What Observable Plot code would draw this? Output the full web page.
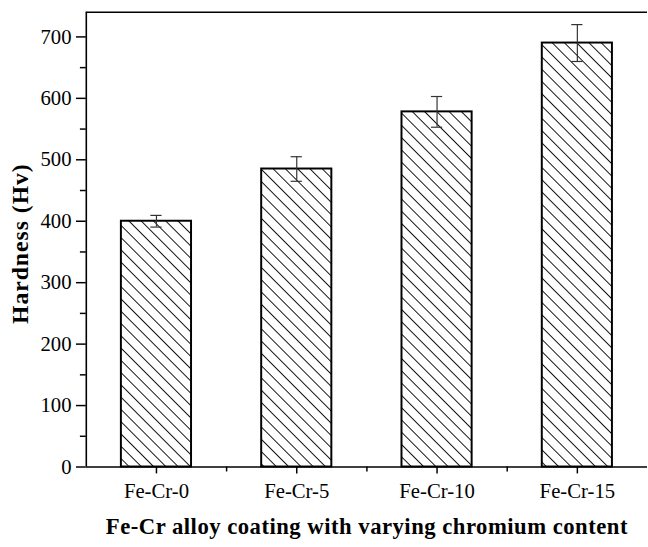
<!DOCTYPE html>
<html>
<head>
<meta charset="utf-8">
<script src="https://cdn.jsdelivr.net/npm/d3@7"></script>
<script src="https://cdn.jsdelivr.net/npm/@observablehq/plot@0.6"></script>
<style>
  html, body { margin: 0; padding: 0; background: #fff; overflow: hidden; width: 648px; height: 547px; }
  #chart svg { display: block; }
</style>
</head>
<body>
<div id="chart"></div>
<script>
// ---- data ----
const categories = ["Fe-Cr-0", "Fe-Cr-5", "Fe-Cr-10", "Fe-Cr-15"];
const hardness = [400, 485, 578, 690];
const errors = [9.5, 20, 25, 30];
const yMajorTicks = [0, 100, 200, 300, 400, 500, 600, 700];
const yMinorTicks = [50, 150, 250, 350, 450, 550, 650];
const xLabel = "Fe-Cr alloy coating with varying chromium content";
const yLabel = "Hardness (Hv)";

const idx = categories.map((_, i) => i);
const xMinorTicks = idx.slice(1).map(i => i - 0.5);
const halfBar = 0.25;
const capHalf = 0.04;

const svg = Plot.plot({
  width: 657,
  height: 547,
  marginLeft: 87,
  marginRight: 1,
  marginTop: 12,
  marginBottom: 74,
  style: { fontFamily: "'Liberation Serif', 'Times New Roman', serif", fontSize: "21px", color: "black", background: "white" },
  x: { domain: [-0.5, categories.length - 0.5] },
  y: { domain: [0, 740] },
  marks: [
    Plot.rect(idx, {
      x1: i => i - halfBar, x2: i => i + halfBar,
      y1: 0, y2: i => hardness[i],
      fill: "url(#hatch)", stroke: "black", strokeWidth: 2
    }),
    Plot.ruleX(idx, { x: i => i, y1: i => hardness[i] - errors[i], y2: i => hardness[i] + errors[i], stroke: "#333", strokeWidth: 1.2 }),
    Plot.ruleY(idx, { y: i => hardness[i] + errors[i], x1: i => i - capHalf, x2: i => i + capHalf, stroke: "#333", strokeWidth: 1.2 }),
    Plot.ruleY(idx, { y: i => hardness[i] - errors[i], x1: i => i - capHalf, x2: i => i + capHalf, stroke: "#333", strokeWidth: 1.2 }),
    Plot.ruleY([0], { stroke: "black", strokeWidth: 1.6 }),
    Plot.ruleY([740], { stroke: "black", strokeWidth: 1.6 }),
    Plot.ruleX([-0.5], { stroke: "black", strokeWidth: 1.6 }),
    Plot.axisY(yMajorTicks, { tickSize: 10, tickPadding: 5, label: null, strokeWidth: 1.5, fontSize: 21 }),
    Plot.axisY(yMinorTicks, { tickSize: 6, tickFormat: () => "", label: null, strokeWidth: 1.5 }),
    Plot.axisX(idx, { tickSize: 7, tickPadding: 10, tickFormat: i => categories[i], label: null, strokeWidth: 1.5, fontSize: 21 }),
    Plot.axisX(xMinorTicks, { tickSize: 5, tickFormat: () => "", label: null, strokeWidth: 1.5 }),
    Plot.text([xLabel], { frameAnchor: "bottom", dy: 68, lineAnchor: "bottom", textAnchor: "middle", fontWeight: "bold", fontSize: 23, fill: "black" }),
    Plot.text([yLabel], { frameAnchor: "left", dx: -67, dy: 4, rotate: -90, textAnchor: "middle", lineAnchor: "middle", fontWeight: "bold", fontSize: 24, fill: "black" })
  ]
});

const s = d3.select(svg);
const defs = s.insert("defs", ":first-child");
const pat = defs.append("pattern")
  .attr("id", "hatch")
  .attr("patternUnits", "userSpaceOnUse")
  .attr("width", 10)
  .attr("height", 8.8)
  .attr("patternTransform", "rotate(45)");
pat.append("rect").attr("width", 10).attr("height", 8.8).attr("fill", "white");
pat.append("line").attr("x1", 0).attr("x2", 10).attr("y1", 4.4).attr("y2", 4.4)
  .attr("stroke", "#111").attr("stroke-width", 1);

s.selectAll("text").each(function () {
  const t = d3.select(this);
  if (t.text() === yLabel) t.style("letter-spacing", "1px");
  if (t.text() === xLabel) t.style("letter-spacing", "0.5px");
});

document.getElementById("chart").appendChild(svg);
</script>
</body>
</html>
